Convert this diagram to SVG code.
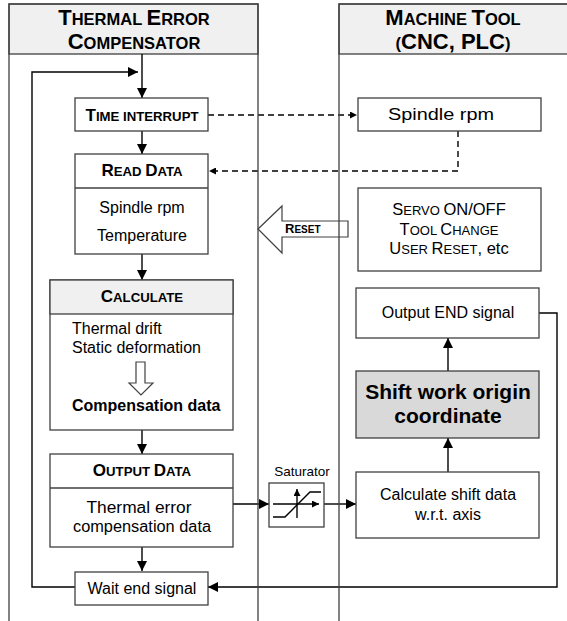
<svg xmlns="http://www.w3.org/2000/svg" width="567" height="621" viewBox="0 0 567 621">
<defs>
<marker id="ah" viewBox="0 0 10 10" refX="10" refY="5" markerWidth="10" markerHeight="10" markerUnits="userSpaceOnUse" orient="auto">
<path d="M0,0 L10,5 L0,10 z" fill="#000"/>
</marker>
<marker id="ahs" viewBox="0 0 10 10" refX="10" refY="5" markerWidth="7" markerHeight="7" markerUnits="userSpaceOnUse" orient="auto">
<path d="M0,0 L10,5 L0,10 z" fill="#000"/>
</marker>
</defs>
<style>
text{font-family:"Liberation Sans",Arial,sans-serif;fill:#000}
.box{fill:#fff;stroke:#404040;stroke-width:1.3}
.panel{fill:#fff;stroke:none}
.pline{fill:none;stroke:#404040;stroke-width:1.3}
.hdr{fill:#f0f0f0;stroke:#404040;stroke-width:1.3}
.c{text-anchor:middle}
.b{font-weight:bold}
.t16{font-size:16px}
.conn{fill:none;stroke:#000;stroke-width:1.4}
.dash{stroke-dasharray:6,4}
</style>
<rect width="567" height="621" fill="#fff"/>
<g id="panel-left">
<rect class="panel" x="9" y="4" width="249" height="630"/>
<rect class="hdr" x="9" y="4" width="249" height="50"/>
<text class="c b" x="134" y="25"><tspan font-size="22">T</tspan><tspan font-size="16.5">HERMAL </tspan><tspan font-size="22">E</tspan><tspan font-size="16.5">RROR</tspan></text>
<text class="c b" x="134" y="49"><tspan font-size="22">C</tspan><tspan font-size="16.5">OMPENSATOR</tspan></text>
</g>
<g id="panel-right">
<rect class="panel" x="339" y="4" width="240" height="630"/>
<rect class="hdr" x="339" y="4" width="240" height="50"/>
<text class="c b" x="453" y="25"><tspan font-size="22">M</tspan><tspan font-size="16.5">ACHINE </tspan><tspan font-size="22">T</tspan><tspan font-size="16.5">OOL</tspan></text>
<text class="c b" x="453" y="49"><tspan font-size="16.5">(</tspan><tspan font-size="22">CNC, PLC</tspan><tspan font-size="16.5">)</tspan></text>
</g>
<g id="connectors">
<path class="conn" d="M142,54 V98" marker-end="url(#ah)"/>
<path class="conn" d="M75,587 H32 V72 H138" marker-end="url(#ah)"/>
<path class="conn" d="M142,131 V154" marker-end="url(#ah)"/>
<path class="conn" d="M142,254 V280" marker-end="url(#ah)"/>
<path class="conn" d="M142,430 V454" marker-end="url(#ah)"/>
<path class="conn" d="M142,547 V571" marker-end="url(#ah)"/>
<path class="conn dash" d="M208,115 H357" marker-end="url(#ahs)"/>
<path class="conn dash" d="M458,131 V171 H209" marker-end="url(#ahs)"/>
<path class="conn" d="M233,504 H269" marker-end="url(#ah)"/>
<path class="conn" d="M324,504 H356" marker-end="url(#ah)"/>
<path class="conn" d="M448,472 V438" marker-end="url(#ah)"/>
<path class="conn" d="M448,371 V338" marker-end="url(#ah)"/>
<path class="conn" d="M539,313 H557 V587 H208" marker-end="url(#ah)"/>
</g>
<g id="time-interrupt">
<rect class="box" x="75" y="98" width="133" height="33"/>
<text class="c b" x="142" y="121"><tspan font-size="17">T</tspan><tspan font-size="13.2">IME INTERRUPT</tspan></text>
</g>
<g id="read-data">
<rect class="box" x="75" y="154" width="133" height="100"/>
<line class="pline" x1="75" y1="188" x2="208" y2="188"/>
<text class="c b" x="142" y="176"><tspan font-size="17">R</tspan><tspan font-size="13.2">EAD </tspan><tspan font-size="17">D</tspan><tspan font-size="13.2">ATA</tspan></text>
<text class="c t16" x="142" y="213">Spindle rpm</text>
<text class="c t16" x="142" y="241">Temperature</text>
</g>
<g id="calculate">
<rect class="box" x="50" y="280" width="183" height="150"/>
<rect class="hdr" x="50" y="280" width="183" height="34"/>
<text class="c b" x="142" y="302"><tspan font-size="17">C</tspan><tspan font-size="13.2">ALCULATE</tspan></text>
<text class="t16" x="72" y="334">Thermal drift</text>
<text class="t16" x="72" y="353">Static deformation</text>
<polygon points="136,362 145,362 145,383 153,383 141,395 129,383 136,383" fill="#fff" stroke="#404040" stroke-width="1.2"/>
<text class="t16 b" x="72" y="411">Compensation data</text>
</g>
<g id="output-data">
<rect class="box" x="50" y="454" width="183" height="93"/>
<line class="pline" x1="50" y1="488" x2="233" y2="488"/>
<text class="c b" x="142" y="476"><tspan font-size="17">O</tspan><tspan font-size="13.2">UTPUT </tspan><tspan font-size="17">D</tspan><tspan font-size="13.2">ATA</tspan></text>
<text class="c t16" x="139" y="513" textLength="105" lengthAdjust="spacingAndGlyphs">Thermal error</text>
<text class="c t16" x="142" y="532" textLength="138" lengthAdjust="spacingAndGlyphs">compensation data</text>
</g>
<g id="wait-end-signal">
<rect class="box" x="75" y="572" width="133" height="33"/>
<text class="c t16" x="142" y="594">Wait end signal</text>
</g>
<g id="spindle-rpm">
<rect class="box" x="358" y="98" width="183" height="33"/>
<text class="c t16" x="441" y="120" textLength="106" lengthAdjust="spacingAndGlyphs">Spindle rpm</text>
</g>
<g id="servo">
<rect class="box" x="358" y="188" width="183" height="83"/>
<text class="c" x="449" y="215"><tspan font-size="16.5">S</tspan><tspan font-size="13">ERVO </tspan><tspan font-size="16.5">ON/OFF</tspan></text>
<text class="c" x="449" y="235"><tspan font-size="16.5">T</tspan><tspan font-size="13">OOL </tspan><tspan font-size="16.5">C</tspan><tspan font-size="13">HANGE</tspan></text>
<text class="c" x="449" y="254"><tspan font-size="16.5">U</tspan><tspan font-size="13">SER </tspan><tspan font-size="16.5">R</tspan><tspan font-size="13">ESET</tspan><tspan font-size="16.5">, etc</tspan></text>
</g>
<g id="output-end">
<rect class="box" x="356" y="288" width="183" height="50"/>
<text class="c t16" x="448" y="318">Output END signal</text>
</g>
<g id="shift-origin">
<rect class="box" x="356" y="371" width="183" height="67" style="fill:#d9d9d9"/>
<text class="c b" font-size="21" x="448" y="399">Shift work origin</text>
<text class="c b" font-size="21" x="448" y="423">coordinate</text>
</g>
<g id="calc-shift">
<rect class="box" x="356" y="472" width="183" height="66"/>
<text class="c t16" x="448" y="500">Calculate shift data</text>
<text class="c t16" x="448" y="520">w.r.t. axis</text>
</g>
<g id="saturator">
<text class="c" font-size="13.5" x="302" y="476">Saturator</text>
<rect class="box" x="269" y="483" width="55" height="44"/>
<path class="conn" stroke-width="1.1" d="M297,518 V489" marker-end="url(#ahs)"/>
<path class="conn" stroke-width="1.1" d="M273,504 H319" marker-end="url(#ahs)"/>
<path class="conn" stroke-width="1.3" d="M273,517 H285 L310,492 H321"/>
</g>
<g id="reset">
<polygon points="258,229 282,206 282,221 348,221 348,237 282,237 282,253" fill="#fff" stroke="#404040" stroke-width="1.2"/>
<text class="b" x="285" y="233"><tspan font-size="13">R</tspan><tspan font-size="10">ESET</tspan></text>
</g>
<g id="panel-borders">
<rect class="pline" x="9" y="4" width="249" height="630"/>
<rect class="pline" x="339" y="4" width="240" height="630"/>
</g>
</svg>
